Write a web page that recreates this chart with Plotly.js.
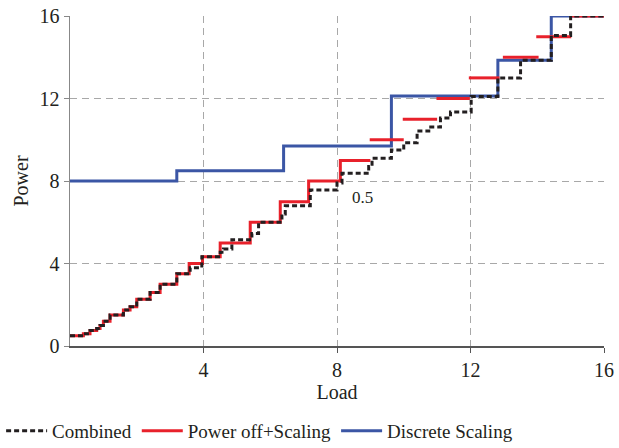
<!DOCTYPE html>
<html>
<head>
<meta charset="utf-8">
<script src="https://cdn.plot.ly/plotly-3.0.1.min.js"></script>
<style>html,body{margin:0;padding:0;background:#fff;}</style>
</head>
<body>
<div id="chart" style="width:619px;height:448px;"></div>
<script>
// Combined (step: value holds from load[i] to load[i+1])
const combinedLoad  = [0, 0.4, 0.6, 0.8, 0.9, 1.0, 1.2, 1.6, 1.8, 2.0, 2.4, 2.7, 3.2, 3.6, 3.95, 4.5, 4.6, 4.85, 5.45, 5.65, 6.35, 6.45, 7.2, 8.0, 8.15, 8.95, 9.05, 9.63, 10.0, 10.4, 10.75, 11.1, 11.4, 12.02, 12.82, 13.5, 14.42, 15.0, 16.0];
const combinedPower = [0.5, 0.6, 0.75, 0.85, 1.0, 1.2, 1.5, 1.75, 1.9, 2.27, 2.6, 3.0, 3.5, 3.8, 4.33, 4.55, 4.7, 5.15, 5.45, 6.0, 6.4, 6.8, 7.56, 7.9, 8.37, 8.7, 9.1, 9.5, 9.85, 10.42, 10.62, 11.05, 11.35, 12.1, 13.0, 13.85, 15.05, 16.0, 16.0];

// Power off + Scaling: connected staircase at low load
const powerOffLoad  = [0, 0.4, 0.6, 0.8, 0.9, 1.0, 1.2, 1.6, 1.8, 2.0, 2.4, 2.7, 3.2, 3.57, 3.97, 4.5, 5.4, 6.3, 7.15, 8.1, 9.0];
const powerOffPower = [0.5, 0.6, 0.75, 0.85, 1.0, 1.2, 1.5, 1.75, 1.9, 2.27, 2.6, 3.0, 3.5, 4.0, 4.33, 5.0, 6.0, 7.0, 8.0, 9.0, 9.0];
// Power off + Scaling: separate levels at high load
const powerOffSegStart = [8.98, 9.97, 10.98, 11.95, 12.97, 13.97, 15.0];
const powerOffSegEnd   = [10.0, 11.0, 11.98, 12.87, 14.04, 15.02, 16.0];
const powerOffSegPower = [10, 11, 12, 13, 14, 15, 16];

// Discrete Scaling
const discreteLoad  = [0, 3.2, 6.4, 9.63, 12.82, 14.42, 16.0];
const discretePower = [8.0, 8.5, 9.7, 12.12, 13.85, 16.0, 16.0];

const xTickVals = [4, 8, 12, 16];
const yTickVals = [0, 4, 8, 12, 16];

const segX = [], segY = [];
powerOffSegStart.forEach((s, i) => {
  segX.push(s, powerOffSegEnd[i], null);
  segY.push(powerOffSegPower[i], powerOffSegPower[i], null);
});

const RED = '#e8212b', BLUE = '#3b56a5', BLACK = '#231f20';
const serif = "'Liberation Serif', 'Times New Roman', serif";

const traces = [
  {x: discreteLoad, y: discretePower, mode: 'lines', line: {shape: 'hv', color: BLUE, width: 3}, name: 'Discrete Scaling', legendrank: 3, cliponaxis: false},
  {x: powerOffLoad, y: powerOffPower, mode: 'lines', line: {shape: 'hv', color: RED, width: 3}, name: 'Power off+Scaling', legendgroup: 'po', legendrank: 2, cliponaxis: false},
  {x: segX, y: segY, mode: 'lines', line: {color: RED, width: 3}, name: 'Power off+Scaling', legendgroup: 'po', showlegend: false, connectgaps: false, cliponaxis: false},
  {x: combinedLoad, y: combinedPower, mode: 'lines', line: {shape: 'hv', color: BLACK, width: 3, dash: '5px,3px'}, name: 'Combined', legendrank: 1, cliponaxis: false}
];

const axisCommon = {
  range: [0, 16],
  showgrid: true, gridcolor: '#a8a8a8', griddash: '7px,5px', gridwidth: 1,
  zeroline: false, showline: true, linewidth: 1.5,
  ticks: 'outside', ticklen: 5,
  tickfont: {family: serif, size: 20, color: '#231f20'}, fixedrange: true
};

const layout = {
  width: 619, height: 448,
  margin: {l: 70, r: 14.5, t: 16, b: 102.3, autoexpand: false},
  paper_bgcolor: '#fff', plot_bgcolor: '#fff',
  font: {family: serif, color: '#231f20'},
  xaxis: Object.assign({}, axisCommon, {tickvals: xTickVals, ticktext: xTickVals.map(String),
    linecolor: '#555', tickcolor: '#555', automargin: true,
    title: {text: 'Load', font: {family: serif, size: 20}, standoff: 5}}),
  yaxis: Object.assign({}, axisCommon, {tickvals: yTickVals, ticktext: yTickVals.map(String),
    linecolor: '#888', tickcolor: '#888', automargin: true,
    title: {text: 'Power', font: {family: serif, size: 20}, standoff: 5}}),
  showlegend: true,
  legend: {orientation: 'h', x: -0.129, xanchor: 'left', y: -0.2, yanchor: 'top',
           font: {family: serif, size: 19, color: '#231f20'}, traceorder: 'normal', itemwidth: 41},
  annotations: [{x: 8.77, y: 7.22, xref: 'x', yref: 'y', text: '0.5', showarrow: false,
                 font: {family: serif, size: 17, color: '#231f20'}}]
};

Plotly.newPlot('chart', traces, layout, {displayModeBar: false, staticPlot: true});
</script>
</body>
</html>
